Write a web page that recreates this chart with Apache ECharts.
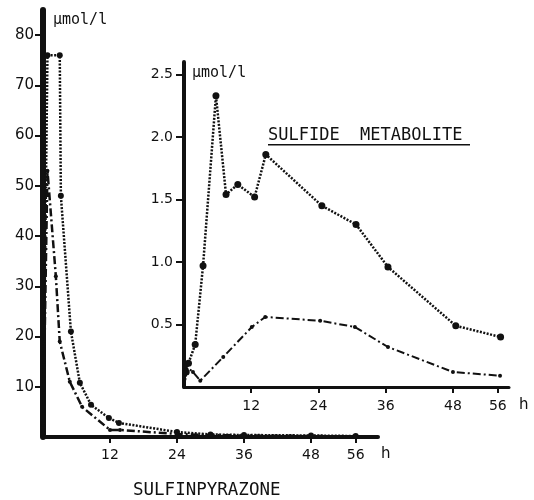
<!DOCTYPE html>
<html>
<head>
<meta charset="utf-8">
<script src="https://cdn.jsdelivr.net/npm/echarts@6/dist/echarts.min.js"></script>
<style>
  html, body { margin: 0; padding: 0; background: #fff; }
  #chart { width: 534px; height: 500px; }
</style>
</head>
<body>
<div id="chart"></div>
<script>
// ---- Data ----
// Main panel: sulfinpyrazone (µmol/l vs h)
const mainTimesDotted   = [0, 0.8, 3.0, 3.2, 5.0, 6.6, 8.6, 11.8, 13.6, 24, 30, 36, 48, 56];
const mainValuesDotted  = [0, 76, 76, 48, 21, 10.8, 6.4, 3.8, 2.8, 1.0, 0.5, 0.4, 0.3, 0.2];
const mainTimesDashDot  = [0, 0.8, 2.3, 3.0, 4.8, 7.0, 12, 13.8, 24, 30, 36, 48, 56];
const mainValuesDashDot = [0, 53, 32, 19, 11, 6, 1.4, 1.4, 0.6, 0.4, 0.3, 0.2, 0.1];
// Inset: sulfide metabolite
const insetTimesDotted   = [0, 0.4, 0.8, 2.0, 3.4, 5.7, 7.5, 9.6, 12.6, 14.6, 24.6, 30.7, 36.4, 48.5, 56.5];
const insetValuesDotted  = [0, 0.12, 0.19, 0.34, 0.97, 2.33, 1.54, 1.62, 1.52, 1.86, 1.45, 1.30, 0.96, 0.49, 0.40];
const insetTimesDashDot  = [0, 0.3, 1.6, 2.9, 7.0, 12.1, 14.5, 24.3, 30.5, 36.4, 48.0, 56.4];
const insetValuesDashDot = [0, 0.17, 0.12, 0.05, 0.24, 0.48, 0.56, 0.53, 0.48, 0.32, 0.12, 0.09];
// Tick labels
const mainXTicks  = [12, 24, 36, 48, 56];
const mainYTicks  = [10, 20, 30, 40, 50, 60, 70, 80];
const insetXTicks = [12, 24, 36, 48, 56];
const insetYTicks = [0.5, 1.0, 1.5, 2.0, 2.5];
const unitLabel = 'µmol/l';
const timeLabel = 'h';
const mainTitle = 'SULFINPYRAZONE';
const insetTitle = 'SULFIDE  METABOLITE';

// ---- Build ----
const INK = '#111';
function pairs(t, v) {
  return t.map((x, i) => (i === 0 ? { value: [x, v[i]], symbol: 'none' } : [x, v[i]]));
}
const numFont = { color: INK, fontFamily: 'DejaVu Sans', fontSize: 14 };

const chart = echarts.init(document.getElementById('chart'), null, { renderer: 'canvas' });
chart.setOption({
  animation: false,
  backgroundColor: '#fff',
  grid: [
    { left: 43, top: 10, right: 156, bottom: 63 },
    { left: 184, top: 62, right: 25, bottom: 113 }
  ],
  xAxis: [
    {
      gridIndex: 0, type: 'value', min: 0, max: 60,
      axisLine: { show: true, onZero: false, lineStyle: { color: INK, width: 4 } },
      axisTick: { show: true, customValues: mainXTicks, length: 6, lineStyle: { color: INK, width: 2 } },
      axisLabel: Object.assign({ customValues: mainXTicks, margin: 11 }, numFont),
      splitLine: { show: false },
      name: timeLabel, nameLocation: 'end', nameGap: 3,
      nameTextStyle: { color: INK, fontFamily: 'DejaVu Sans', fontSize: 15, verticalAlign: 'top', padding: [10, 0, 0, 0] }
    },
    {
      gridIndex: 1, type: 'value', min: 0, max: 58,
      axisLine: { show: true, onZero: false, lineStyle: { color: INK, width: 3 } },
      axisTick: { show: true, customValues: insetXTicks, length: 6, lineStyle: { color: INK, width: 2 } },
      axisLabel: Object.assign({ customValues: insetXTicks, margin: 12 }, numFont),
      splitLine: { show: false },
      name: timeLabel, nameLocation: 'end', nameGap: 10,
      nameTextStyle: { color: INK, fontFamily: 'DejaVu Sans', fontSize: 15, verticalAlign: 'top', padding: [11, 0, 0, 0] }
    }
  ],
  yAxis: [
    {
      gridIndex: 0, type: 'value', min: 0, max: 85,
      axisLine: { show: true, onZero: false, lineStyle: { color: INK, width: 6 } },
      axisTick: { show: true, customValues: mainYTicks, length: 8, lineStyle: { color: INK, width: 2 } },
      axisLabel: Object.assign({ customValues: mainYTicks, margin: 9 }, numFont, { fontSize: 15 }),
      splitLine: { show: false },
      name: unitLabel, nameLocation: 'end', nameGap: -3,
      nameTextStyle: { color: INK, fontFamily: 'DejaVu Sans Mono', fontSize: 15, align: 'left', verticalAlign: 'top', padding: [0, 0, 0, 10] }
    },
    {
      gridIndex: 1, type: 'value', min: 0, max: 2.6,
      axisLine: { show: true, onZero: false, lineStyle: { color: INK, width: 4 } },
      axisTick: { show: true, customValues: insetYTicks, length: 8, lineStyle: { color: INK, width: 2 } },
      axisLabel: Object.assign({ customValues: insetYTicks, margin: 11, formatter: v => v.toFixed(1) }, numFont),
      splitLine: { show: false },
      name: unitLabel, nameLocation: 'end', nameGap: -4,
      nameTextStyle: { color: INK, fontFamily: 'DejaVu Sans Mono', fontSize: 15, align: 'left', verticalAlign: 'top', padding: [0, 0, 0, 8] }
    }
  ],
  series: [
    {
      type: 'line', xAxisIndex: 0, yAxisIndex: 0,
      data: pairs(mainTimesDotted, mainValuesDotted),
      symbol: 'circle', symbolSize: 6,
      itemStyle: { color: INK },
      lineStyle: { color: INK, width: 2.5, type: [2, 1.5] }
    },
    {
      type: 'line', xAxisIndex: 0, yAxisIndex: 0,
      data: pairs(mainTimesDashDot, mainValuesDashDot),
      symbol: 'circle', symbolSize: 4,
      itemStyle: { color: INK },
      lineStyle: { color: INK, width: 2.5, type: [8, 3, 2, 3] }
    },
    {
      type: 'line', xAxisIndex: 1, yAxisIndex: 1,
      data: pairs(insetTimesDotted, insetValuesDotted),
      symbol: 'circle', symbolSize: 7,
      itemStyle: { color: INK },
      lineStyle: { color: INK, width: 2.5, type: [2, 1.5] }
    },
    {
      type: 'line', xAxisIndex: 1, yAxisIndex: 1,
      data: pairs(insetTimesDashDot, insetValuesDashDot),
      symbol: 'circle', symbolSize: 4,
      itemStyle: { color: INK },
      lineStyle: { color: INK, width: 2, type: [8, 3, 2, 3] }
    }
  ],
  graphic: [
    {
      type: 'group', left: 268, top: 127,
      children: [
        { type: 'text', left: 0, top: 0, style: { text: insetTitle, fill: INK, font: '17px "DejaVu Sans Mono"' } },
        { type: 'rect', left: 0, top: 17, shape: { width: 202, height: 1.5 }, style: { fill: INK } }
      ]
    },
    { type: 'text', left: 133, top: 481, style: { text: mainTitle, fill: INK, font: '17.5px "DejaVu Sans Mono"' } }
  ]
});
</script>
</body>
</html>
